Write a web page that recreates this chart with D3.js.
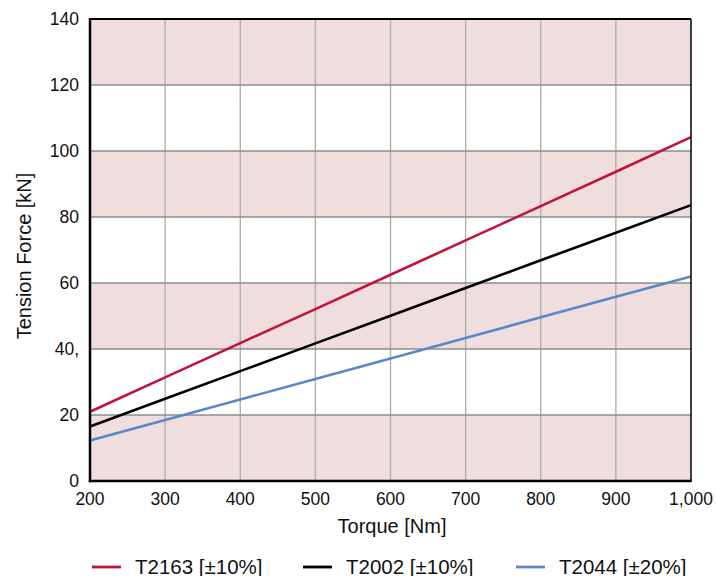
<!DOCTYPE html>
<html><head><meta charset="utf-8">
<script src="https://cdn.jsdelivr.net/npm/d3@7/dist/d3.min.js"></script>
<style>body{margin:0;background:#fff}svg{display:block}text{font-family:"Liberation Sans",Arial,sans-serif;fill:#111}</style>
</head><body>
<script>
const torque = [200,300,400,500,600,700,800,900,1000];
const t2163 = [21.0,31.4,41.8,52.1,62.5,72.9,83.3,93.7,104.2];
const t2002 = [16.5,24.9,33.3,41.7,50.1,58.5,66.9,75.2,83.6];
const t2044 = [12.3,18.5,24.7,30.9,37.1,43.3,49.6,55.8,62.0];
const seriesNames = ["T2163 [±10%]","T2002 [±10%]","T2044 [±20%]"];
const seriesColors = ["#c0143c","#000000","#5b86c8"];
const xTicks = [200,300,400,500,600,700,800,900,1000];
const xTickLabels = ["200","300","400","500","600","700","800","900","1,000"];
const yTicks = [0,20,40,60,80,100,120,140];
const yTickLabels = ["0","20","40,","60","80","100","120","140"];
const bands = [[0,20],[40,60],[80,100],[120,140]];

const W=716,H=576, L=90,R=691,T=19,B=481;
const svg=d3.select("body").append("svg").attr("width",W).attr("height",H);
const x=d3.scaleLinear().domain([200,1000]).range([L,R]);
const y=d3.scaleLinear().domain([0,140]).range([B,T]);

svg.append("g").selectAll("rect").data(bands).join("rect")
  .attr("x",L).attr("width",R-L).attr("y",d=>y(d[1])).attr("height",d=>y(d[0])-y(d[1]))
  .attr("fill","#f0dede");

svg.append("g").selectAll("line").data(xTicks.slice(1,-1)).join("line")
  .attr("x1",d=>x(d)).attr("x2",d=>x(d)).attr("y1",T).attr("y2",B)
  .attr("stroke","#aaaaaa").attr("stroke-width",1.3);
svg.append("g").selectAll("line").data(yTicks.slice(1,-1)).join("line")
  .attr("x1",L).attr("x2",R).attr("y1",d=>y(d)).attr("y2",d=>y(d))
  .attr("stroke","#8c8c8c").attr("stroke-width",1.3);

const seriesData=[t2163,t2002,t2044];
const line=d3.line().x((d,i)=>x(torque[i])).y(d=>y(d));
svg.append("g").selectAll("path").data(seriesData).join("path")
  .attr("d",line).attr("fill","none").attr("stroke",(d,i)=>seriesColors[i]).attr("stroke-width",2.6);

// frame
svg.append("line").attr("x1",L).attr("x2",R).attr("y1",T).attr("y2",T).attr("stroke","#000").attr("stroke-width",2);
svg.append("line").attr("x1",R).attr("x2",R).attr("y1",T).attr("y2",B).attr("stroke","#000").attr("stroke-width",1.5);
svg.append("line").attr("x1",L).attr("x2",L).attr("y1",T-1).attr("y2",B+1.2).attr("stroke","#000").attr("stroke-width",2.5);
svg.append("line").attr("x1",L-1.2).attr("x2",R+0.7).attr("y1",B).attr("y2",B).attr("stroke","#000").attr("stroke-width",2.5);

svg.append("g").selectAll("text").data(yTicks).join("text")
  .attr("x",L-11).attr("y",d=>y(d)).attr("dy","0.35em").attr("text-anchor","end")
  .attr("font-size",17.5).text((d,i)=>yTickLabels[i]);
svg.append("g").selectAll("text").data(xTicks).join("text")
  .attr("x",d=>x(d)).attr("y",B+24).attr("text-anchor","middle")
  .attr("font-size",17.5).text((d,i)=>xTickLabels[i]);

svg.append("text").attr("transform",`translate(31,256) rotate(-90)`).attr("text-anchor","middle")
  .attr("font-size",20).text("Tension Force [kN]");
svg.append("text").attr("x",392).attr("y",533).attr("text-anchor","middle")
  .attr("font-size",20).text("Torque [Nm]");

const legX=[92,303,516];
const lg=svg.append("g").selectAll("g").data(seriesNames).join("g").attr("transform",(d,i)=>`translate(${legX[i]},567)`);
lg.append("line").attr("x1",0).attr("x2",29).attr("stroke",(d,i)=>seriesColors[i]).attr("stroke-width",2.8);
lg.append("text").attr("x",43).attr("y",6.5).attr("font-size",20.5).text(d=>d);
</script>
</body></html>
